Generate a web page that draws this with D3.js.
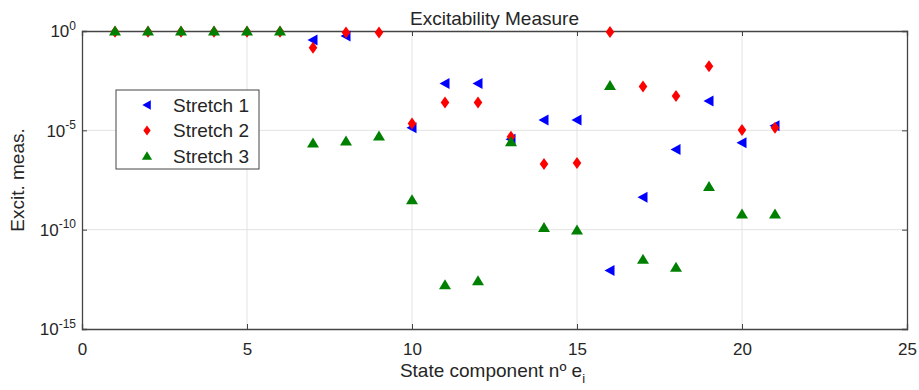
<!DOCTYPE html>
<html>
  <head>
    <meta charset="utf-8" />
    <style>
      body { margin: 0; background: #fff; }
      text { font-family: "Liberation Sans", Arial, sans-serif; fill: #262626; }
    </style>
  </head>
  <body>
    <svg width="919" height="390"></svg>
    <script src="https://d3js.org/d3.v7.min.js"></script>
    <script>
      var components = [1, 2, 3, 4, 5, 6, 7, 8, 9, 10, 11, 12, 13, 14, 15, 16, 17, 18, 19, 20, 21];
      // null = marker not visible in the picture (hidden under the others)
      var stretch1 = [null, null, null, null, null, null, 0.355, 0.56, null, 1.35e-5, 2.3e-3, 2.3e-3, 3.6e-6, 3.3e-5, 3.3e-5,
        8.7e-13, 4.3e-9, 1.1e-6, 3.0e-4, 2.4e-6, 1.7e-5];
      var stretch2 = [0.92, 0.92, 0.92, 0.92, 0.92, 0.92, 0.145, 0.83, 0.85, 2.2e-5, 2.5e-4, 2.5e-4, 4.8e-6, 2.0e-7, 2.3e-7,
        0.9, 1.6e-3, 5.4e-4, 1.7e-2, 1.05e-5, 1.35e-5];
      var stretch3 = [1, 1, 1, 1, 1, 1, 2.3e-6, 2.9e-6, 5.2e-6, 3.2e-9, 1.7e-13, 2.7e-13, 2.7e-6, 1.3e-10, 9.5e-11,
        1.8e-3, 3.2e-12, 1.3e-12, 1.5e-8, 6.2e-10, 6.2e-10];
      var seriesNames = ["Stretch 1", "Stretch 2", "Stretch 3"];
      var xTicks = [0, 5, 10, 15, 20, 25];
      var yTicks = [1e0, 1e-5, 1e-10, 1e-15];

      var svg = d3.select("svg");
      var margin = { left: 82, right: 12, top: 31, bottom: 61 };
      var width = 919 - margin.left - margin.right,
        height = 390 - margin.top - margin.bottom;
      var g = svg.append("g").attr("transform", "translate(" + margin.left + "," + margin.top + ")");

      var x = d3.scaleLinear().domain([0, 25]).range([0, width]);
      var y = d3.scaleLog().domain([1e-15, 1]).range([height, 0]);

      var axisColor = "#444";
      var font = "Liberation Sans, Arial, sans-serif";

      // grid
      g.selectAll(".gx").data(xTicks.slice(1, -1)).enter().append("line")
        .attr("x1", function(d) { return x(d); }).attr("x2", function(d) { return x(d); })
        .attr("y1", 0).attr("y2", height)
        .attr("stroke", "#e3e3e3").attr("stroke-width", 1);
      g.selectAll(".gy").data(yTicks.slice(1, -1)).enter().append("line")
        .attr("y1", function(d) { return y(d); }).attr("y2", function(d) { return y(d); })
        .attr("x1", 0).attr("x2", width)
        .attr("stroke", "#e3e3e3").attr("stroke-width", 1);

      // axes (box with inward ticks)
      var xAxis = g.append("g").attr("transform", "translate(0," + height + ")")
        .call(d3.axisBottom(x).tickValues(xTicks).tickSize(-5).tickPadding(14).tickFormat(d3.format("d")));
      var xTop = g.append("g")
        .call(d3.axisTop(x).tickValues(xTicks).tickSize(-5).tickFormat(""));
      var yAxis = g.append("g")
        .call(d3.axisLeft(y).tickValues(yTicks).tickSize(-5).tickFormat(""));
      var yRight = g.append("g").attr("transform", "translate(" + width + ",0)")
        .call(d3.axisRight(y).tickValues(yTicks).tickSize(-5).tickFormat(""));
      [xAxis, xTop, yAxis, yRight].forEach(function(a) {
        a.select(".domain").attr("stroke", axisColor).attr("stroke-width", 1.3);
        a.selectAll(".tick line").attr("stroke", axisColor);
      });
      xAxis.selectAll(".tick text").attr("font-size", 17).style("fill", "#262626")
        .attr("font-family", font);

      // log tick labels 10^n
      var yl = yAxis.selectAll(".tick").append("text")
        .attr("x", -6).attr("dy", "0.35em").attr("text-anchor", "end")
        .attr("font-size", 17).style("fill", "#262626")
        .attr("font-family", font);
      yl.append("tspan").text("10");
      yl.append("tspan").attr("font-size", 12).attr("dy", "-0.65em")
        .text(function(d) { return Math.round(Math.log10(d)); });

      // markers
      var sym = {
        "Stretch 1": function(s) { return "M" + (-5.5 * s) + ",0L" + (4.5 * s) + "," + (-5.5 * s) + "L" + (4.5 * s) + "," + (5.5 * s) + "Z"; },
        "Stretch 2": function(s) { return "M0," + (-6 * s) + "L" + (4.3 * s) + ",0L0," + (6 * s) + "L" + (-4.3 * s) + ",0Z"; },
        "Stretch 3": function(s) { return "M0," + (-5.5 * s) + "L" + (6 * s) + "," + (4.5 * s) + "L" + (-6 * s) + "," + (4.5 * s) + "Z"; }
      };
      var colors = { "Stretch 1": "#0000ff", "Stretch 2": "#ff0000", "Stretch 3": "#008000" };
      var seriesVals = [stretch1, stretch2, stretch3];

      seriesNames.forEach(function(name, i) {
        var pts = components
          .map(function(c, j) { return { c: c, v: seriesVals[i][j] }; })
          .filter(function(p) { return p.v != null; });
        g.selectAll(".m" + i).data(pts).enter().append("path")
          .attr("transform", function(p) { return "translate(" + x(p.c) + "," + y(p.v) + ")"; })
          .attr("d", sym[name](1))
          .attr("fill", colors[name]);
      });

      // title and labels
      svg.append("text").attr("x", margin.left + width / 2).attr("y", 25)
        .attr("text-anchor", "middle").attr("font-size", 19).text("Excitability Measure");
      var xl = svg.append("text").attr("x", margin.left + width / 2 - 2).attr("y", 377)
        .attr("text-anchor", "middle").attr("font-size", 19);
      xl.append("tspan").text("State component nº e");
      xl.append("tspan").attr("font-size", 13).attr("dy", "0.45em").text("i");
      svg.append("text").attr("transform", "translate(24," + (margin.top + height / 2) + ") rotate(-90)")
        .attr("text-anchor", "middle").attr("font-size", 19).text("Excit. meas.");

      // legend
      var lg = svg.append("g").attr("transform", "translate(116,90)");
      lg.append("rect").attr("width", 143).attr("height", 79)
        .attr("fill", "#fff").attr("stroke", "#444").attr("stroke-width", 1);
      seriesNames.forEach(function(name, i) {
        var row = lg.append("g").attr("transform", "translate(0," + (15 + i * 25.5) + ")");
        row.append("path").attr("transform", "translate(31,0)").attr("d", sym[name](0.85)).attr("fill", colors[name]);
        row.append("text").attr("x", 57).attr("dy", "0.35em").attr("font-size", 19).text(name);
      });
    </script>
  </body>
</html>
